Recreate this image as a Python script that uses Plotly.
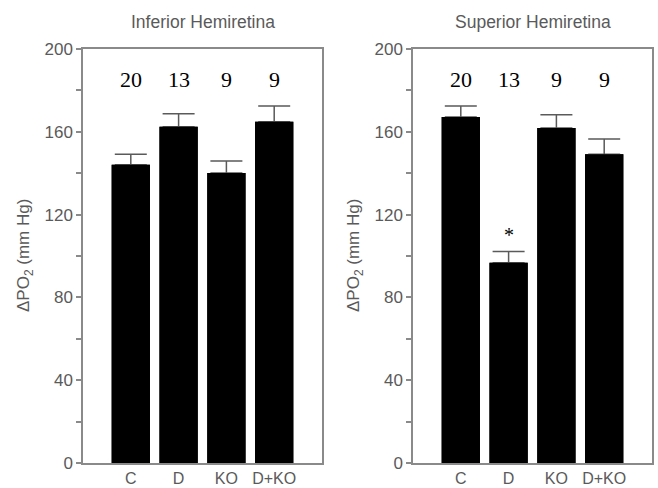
import plotly.graph_objects as go

groups = ["C", "D", "KO", "D+KO"]
n_labels = ["20", "13", "9", "9"]
inferior_mean = [144.1, 162.4, 140.1, 164.8]
inferior_sem = [5.0, 6.3, 5.8, 7.7]
superior_mean = [167.2, 96.7, 161.8, 149.2]
superior_sem = [5.3, 5.5, 6.4, 7.3]
panel_titles = ["Inferior Hemiretina", "Superior Hemiretina"]
y_ticks = [0, 40, 80, 120, 160, 200]
n_label_y = 185.5
star_group = "D"
star_y = 110

GRAY = "#5a5a5a"
LINE = "#8a8a8a"
SANS = "Liberation Sans, Arial, sans-serif"
SERIF = "Liberation Serif, Times New Roman, serif"

fig = go.Figure()
panels = [(inferior_mean, inferior_sem, "x", "y"), (superior_mean, superior_sem, "x2", "y2")]
for means, sems, xa, ya in panels:
    xs = list(range(len(groups)))
    # bars carrying the upper error bars
    fig.add_trace(go.Bar(
        x=xs, y=means, xaxis=xa, yaxis=ya,
        width=0.8, marker=dict(color="black", line=dict(width=0)),
        error_y=dict(type="data", array=sems, symmetric=False,
                     arrayminus=[0] * len(sems), color=GRAY, thickness=1.5, width=16),
        showlegend=False, hoverinfo="skip",
    ))
    # same bars drawn on top to hide the lower cap of the error bars
    fig.add_trace(go.Bar(
        x=xs, y=means, xaxis=xa, yaxis=ya,
        width=0.8, marker=dict(color="black", line=dict(width=0)),
        showlegend=False,
    ))

x_domains = [[83 / 658, 322 / 658], [413 / 658, 652 / 658]]
y_domain = [1 - 463 / 488, 1 - 49 / 488]
for i, xa in enumerate(["xaxis", "xaxis2"]):
    fig.layout[xa] = dict(
        domain=x_domains[i], range=[-1, 4], anchor="y" if i == 0 else "y2",
        tickvals=list(range(len(groups))), ticktext=groups, ticks="",
        showline=True, linecolor=LINE, linewidth=1.5, mirror=True,
        showgrid=False, zeroline=False,
        tickfont=dict(family=SANS, size=16, color=GRAY),
    )
for i, ya in enumerate(["yaxis", "yaxis2"]):
    fig.layout[ya] = dict(
        domain=y_domain, range=[0, 200], anchor="x" if i == 0 else "x2",
        tickvals=y_ticks, ticks="outside", ticklen=5, tickcolor=LINE, tickwidth=1.5,
        minor=dict(dtick=20, tick0=0, ticks="outside", ticklen=5, tickcolor=LINE, tickwidth=1.5),
        showline=True, linecolor=LINE, linewidth=1.5, mirror=True,
        showgrid=False, zeroline=False,
        tickfont=dict(family=SANS, size=17, color=GRAY),
    )

annotations = []
for i, (xr, yr) in enumerate([("x", "y"), ("x2", "y2")]):
    for j, lab in enumerate(n_labels):
        annotations.append(dict(x=j, y=n_label_y, xref=xr, yref=yr, text=lab, showarrow=False,
                                xanchor="center", yanchor="middle",
                                font=dict(family=SERIF, size=22, color="black")))
    cx = (x_domains[i][0] + x_domains[i][1]) / 2
    annotations.append(dict(x=cx, y=1 - 22 / 488, xref="paper", yref="paper", text=panel_titles[i],
                            xanchor="center", yanchor="middle",
                            showarrow=False, font=dict(family=SANS, size=17.5, color=GRAY)))
    annotations.append(dict(x=25 / 658 + (330 / 658 if i == 1 else 0), y=(y_domain[0] + y_domain[1]) / 2,
                            xref="paper", yref="paper", text="ΔPO<sub>2</sub> (mm Hg)", textangle=-90,
                            xanchor="center", yanchor="middle",
                            showarrow=False, font=dict(family=SANS, size=17, color=GRAY)))
annotations.append(dict(x=groups.index(star_group), y=star_y, xref="x2", yref="y2", text="*",
                        xanchor="center", yanchor="middle",
                        showarrow=False, font=dict(family=SERIF, size=20, color="black")))

fig.update_layout(
    width=658, height=488, margin=dict(l=0, r=0, t=0, b=0, autoexpand=False),
    paper_bgcolor="white", plot_bgcolor="white", barmode="overlay",
    annotations=annotations,
)
fig.write_html("out.html")
